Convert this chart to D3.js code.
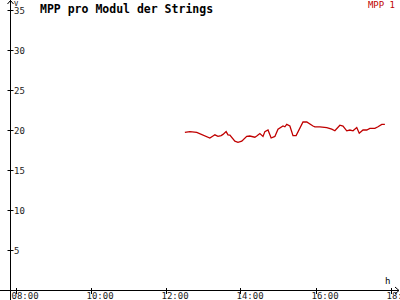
<!DOCTYPE html>
<html>
<head>
<meta charset="utf-8">
<script src="https://cdn.jsdelivr.net/npm/d3@7"></script>
<style>
  body { margin: 0; background: #fff; }
  svg { display: block; }
  text { font-family: "DejaVu Sans Mono", monospace; }
</style>
</head>
<body>
<svg id="chart"></svg>
<script>
// MPP pro Modul der Strings

var times = ["12:31", "12:39", "12:50", "13:11", "13:16", "13:19", "13:24", "13:29", "13:32", "13:37",
             "13:40", "13:43", "13:51", "13:56", "14:02", "14:10", "14:15", "14:23", "14:26", "14:31",
             "14:36", "14:39", "14:44", "14:49", "14:55", "15:00", "15:08", "15:11", "15:14", "15:19",
             "15:24", "15:29", "15:40", "15:46", "15:56", "15:59", "16:07", "16:18", "16:26", "16:31",
             "16:39", "16:44", "16:50", "16:55", "17:00", "17:06", "17:10", "17:16", "17:22", "17:27",
             "17:35", "17:40", "17:46", "17:51"];
var mpp1 = [19.7, 19.8, 19.7, 19.0, 19.25, 19.4, 19.2, 19.3, 19.45, 19.8,
            19.4, 19.35, 18.6, 18.45, 18.6, 19.2, 19.25, 19.1, 19.25, 19.55,
            19.2, 19.8, 20.0, 19.0, 19.2, 20.1, 20.5, 20.4, 20.7, 20.5,
            19.3, 19.3, 21.0, 21.0, 20.5, 20.4, 20.4, 20.3, 20.1, 19.9,
            20.6, 20.5, 19.9, 20.0, 19.9, 20.3, 19.6, 20.0, 20.0, 20.2,
            20.2, 20.4, 20.7, 20.7];
var yTicks = [5, 10, 15, 20, 25, 30, 35];
var xTickLabels = ["08:00", "10:00", "12:00", "14:00", "16:00", "18:00"];

var width = 400;
var height = 300;

var svg = d3.select('#chart')
    .attr('width', width)
    .attr('height', height);

function toHours(s) {
    var p = s.split(':');
    return +p[0] + (+p[1]) / 60;
}

var x = d3.scaleLinear().domain([8, 18]).range([15.5, 390.5]);
var y = d3.scaleLinear().domain([0, 35]).range([290, 10]);
var x0 = 10.5;

// axis lines
svg.append('line')
    .attr('x1', 0).attr('x2', 399)
    .attr('y1', y(0) + 0.5).attr('y2', y(0) + 0.5)
    .style('stroke', '#000');
svg.append('line')
    .attr('x1', x0).attr('x2', x0)
    .attr('y1', 0).attr('y2', height)
    .style('stroke', '#000');

// arrows
svg.append('path')
    .attr('d', 'M' + (x0 - 3) + ',4 L' + x0 + ',0.5 L' + (x0 + 3) + ',4')
    .style('fill', 'none').style('stroke', '#000');
svg.append('path')
    .attr('d', 'M395,' + (y(0) - 3) + ' L399,' + (y(0) + 0.5) + ' L395,' + (y(0) + 4))
    .style('fill', 'none').style('stroke', '#000');

svg.append('text')
    .attr('x', 14).attr('y', 6)
    .style('font-size', '7px')
    .text('V');
svg.append('text')
    .attr('x', 385).attr('y', 284)
    .style('font-size', '9px')
    .text('h');

// y ticks
var yt = svg.selectAll('.ytick')
    .data(yTicks)
    .enter().append('g')
    .attr('class', 'ytick');
yt.append('line')
    .attr('x1', x0 - 3).attr('x2', x0 + 3)
    .attr('y1', d => Math.round(y(d)) + 0.5).attr('y2', d => Math.round(y(d)) + 0.5)
    .style('stroke', '#000');
yt.append('text')
    .attr('x', 14)
    .attr('y', d => y(d) + 3.5)
    .style('font-size', '9px')
    .style('fill', '#222')
    .text(d => d);

// x ticks
var xt = svg.selectAll('.xtick')
    .data(xTickLabels)
    .enter().append('g')
    .attr('class', 'xtick');
xt.append('line')
    .attr('x1', d => Math.round(x(toHours(d))) + 0.5)
    .attr('x2', d => Math.round(x(toHours(d))) + 0.5)
    .attr('y1', y(0) - 2).attr('y2', y(0) + 4)
    .style('stroke', '#000');
xt.append('text')
    .attr('x', d => x(toHours(d)) - 4)
    .attr('y', 299)
    .style('font-size', '9px')
    .style('fill', '#222')
    .text(d => d);

// series
var line = d3.line()
    .x(function (d, i) { return x(toHours(times[i])); })
    .y(function (d) { return y(d); });
svg.append('path')
    .datum(mpp1)
    .attr('d', line)
    .style('fill', 'none')
    .style('stroke', '#c00000')
    .style('stroke-width', 1.3);

// title and legend
svg.append('text')
    .attr('x', 40).attr('y', 13)
    .style('font-size', '11.5px')
    .style('font-weight', 'bold')
    .text('MPP pro Modul der Strings');
svg.append('text')
    .attr('x', 395).attr('y', 8)
    .attr('text-anchor', 'end')
    .style('font-size', '9px')
    .style('fill', '#c00000')
    .text('MPP 1');
</script>
</body>
</html>
